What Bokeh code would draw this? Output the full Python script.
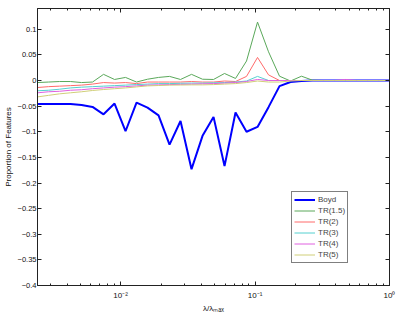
from bokeh.plotting import figure
from bokeh.models import Range1d, FixedTicker, LogAxis, LinearAxis, Legend, LegendItem, CustomJSTickFormatter
from bokeh.embed import file_html
from bokeh.resources import INLINE

# lambda / lambda_max sample positions
x = [0.002412, 0.002911, 0.003516, 0.004244, 0.005125, 0.006186, 0.007468, 0.009016,
     0.010884, 0.013141, 0.015858, 0.019150, 0.023121, 0.027907, 0.033697, 0.040682,
     0.049114, 0.059293, 0.071582, 0.086418, 0.10433, 0.12595, 0.15205, 0.18356,
     0.22162, 0.26754, 0.32299, 0.38994, 0.47076, 0.56834, 0.68614, 0.82834, 1.0]

boyd = [-0.046, -0.046, -0.046, -0.046, -0.048, -0.0515, -0.066, -0.045, -0.099, -0.043,
        -0.053, -0.068, -0.125, -0.079, -0.173, -0.108, -0.071, -0.167, -0.0625, -0.100,
        -0.0906, -0.052, -0.011, -0.003, -0.001, 0, 0, 0, 0, 0, 0, 0, 0]
tr15 = [-0.004, -0.003, -0.002, -0.002, -0.004, -0.003, 0.012, 0.002, 0.006, -0.003,
        0.0025, 0.006, 0.008, 0.002, 0.012, 0.0025, 0.002, 0.0137, 0.004, 0.038,
        0.114, 0.056, 0.0084, -0.001, 0.0084, 0.0006, 0, 0, 0, 0, 0, 0, 0]
tr2 = [-0.0137, -0.012, -0.011, -0.010, -0.009, -0.007, -0.004, -0.005, -0.004, -0.006,
       -0.003, -0.003, -0.003, -0.003, -0.002, -0.003, -0.003, -0.001, -0.002, 0.008,
       0.045, 0.011, 0.0, 0, 0, 0, 0, 0, 0, 0, 0, 0, 0]
tr3 = [-0.020, -0.019, -0.017, -0.0145, -0.013, -0.012, -0.011, -0.010, -0.009, -0.008,
       -0.007, -0.006, -0.006, -0.0055, -0.005, -0.005, -0.0045, -0.004, -0.003, -0.001,
       0.008, 0.0, 0, 0, 0, 0, 0, 0, 0, 0, 0, 0, 0]
tr4 = [-0.024, -0.022, -0.021, -0.019, -0.018, -0.016, -0.0145, -0.013, -0.012, -0.0105,
       -0.009, -0.0085, -0.008, -0.0075, -0.007, -0.0065, -0.006, -0.005, -0.004, -0.002,
       0.002, 0.0, 0, 0, 0, 0, 0, 0, 0.002, 0, 0, 0, 0]
tr5 = [-0.032, -0.029, -0.026, -0.024, -0.022, -0.0195, -0.0176, -0.016, -0.0145, -0.0125,
       -0.0105, -0.0098, -0.009, -0.0088, -0.0085, -0.0085, -0.008, -0.007, -0.006, -0.004,
       -0.001, -0.003, -0.003, -0.001, 0, 0, 0, 0, 0, 0, 0, 0, 0]

names = ["Boyd", "TR(1.5)", "TR(2)", "TR(3)", "TR(4)", "TR(5)"]
series = [boyd, tr15, tr2, tr3, tr4, tr5]
colors = ["#0000ff", "#5aa85a", "#ff6a6a", "#55d0d0", "#e060e0", "#d0cf78"]
widths = [2, 1, 1, 1, 1, 1]

y_ticks = [-0.4, -0.35, -0.3, -0.25, -0.2, -0.15, -0.1, -0.05, 0.0, 0.05, 0.1]
y_labels = ["\u22120.4", "\u22120.35", "\u22120.3", "\u22120.25", "\u22120.2", "\u22120.15",
            "\u22120.1", "\u22120.05", "0", "0.05", "0.1"]
x_major = [0.01, 0.1, 1.0]
x_minor = [0.003, 0.004, 0.005, 0.006, 0.007, 0.008, 0.009,
           0.02, 0.03, 0.04, 0.05, 0.06, 0.07, 0.08, 0.09,
           0.2, 0.3, 0.4, 0.5, 0.6, 0.7, 0.8, 0.9]

FONT = "Liberation Sans"

p = figure(width=399, height=315, x_axis_type="log",
           x_range=Range1d(0.00241, 1.0), y_range=Range1d(-0.4, 0.1405),
           output_backend="svg", toolbar_location=None,
           min_border_left=37, min_border_right=10, min_border_top=8, min_border_bottom=29)
p.xgrid.visible = False
p.ygrid.visible = False
p.outline_line_color = "#222222"
p.outline_line_width = 1

lines = []
for s, c, w in zip(series, colors, widths):
    lines.append(p.line(x, s, line_color=c, line_width=w))

xt = FixedTicker(ticks=x_major, minor_ticks=x_minor)
yt = FixedTicker(ticks=y_ticks)
xa = p.xaxis[0]
xa.ticker = xt
xa.major_label_overrides = {0.01: "10\u207b\u00b2", 0.1: "10\u207b\u00b9", 1.0: "10\u2070"}
xa.axis_label = "\u03bb/\u03bb\u2098\u2090\u2093"
ya = p.yaxis[0]
ya.ticker = yt
ya.major_label_overrides = dict(zip(y_ticks, y_labels))
ya.axis_label = "Proportion of Features"

for ax in (xa, ya):
    ax.major_tick_in = 4
    ax.major_tick_out = 0
    ax.minor_tick_in = 2
    ax.minor_tick_out = 0
    ax.axis_line_color = "#222222"
    ax.major_tick_line_color = "#222222"
    ax.minor_tick_line_color = "#222222"
    ax.major_label_text_font = FONT
    ax.major_label_text_font_size = "8px"
    ax.major_label_text_color = "#111111"
    ax.axis_label_text_font = FONT
    ax.axis_label_text_font_size = "8px"
    ax.axis_label_text_font_style = "normal"
    ax.axis_label_text_color = "#111111"
ya.major_label_text_font_size = "7.5px"
ya.minor_tick_line_color = None
ya.major_label_standoff = 1
ya.axis_label_standoff = 2
xa.major_label_standoff = 5
xa.axis_label_standoff = 1

top = LogAxis(ticker=FixedTicker(ticks=x_major, minor_ticks=x_minor),
              formatter=CustomJSTickFormatter(code="return ' ';"),
              major_label_text_font_size="1px", major_label_standoff=0,
              major_tick_in=4, major_tick_out=0, minor_tick_in=2, minor_tick_out=0,
              axis_line_color="#222222", major_tick_line_color="#222222",
              minor_tick_line_color="#222222")
right = LinearAxis(ticker=FixedTicker(ticks=y_ticks),
                   formatter=CustomJSTickFormatter(code="return ' ';"),
                   major_label_text_font_size="1px", major_label_standoff=0,
                   major_tick_in=4, major_tick_out=0, minor_tick_line_color=None,
                   axis_line_color="#222222", major_tick_line_color="#222222")
p.add_layout(top, "above")
p.add_layout(right, "right")

legend = Legend(items=[LegendItem(label=n, renderers=[r]) for n, r in zip(names, lines)],
                location=(254, 22), label_text_font=FONT, label_text_font_size="8px",
                label_height=11, glyph_height=11, glyph_width=21, spacing=0, padding=2,
                margin=0, label_standoff=3, border_line_color="#000000",
                border_line_width=1, background_fill_alpha=1.0)
p.add_layout(legend, "center")

open("out.html", "w").write(file_html(p, INLINE))
